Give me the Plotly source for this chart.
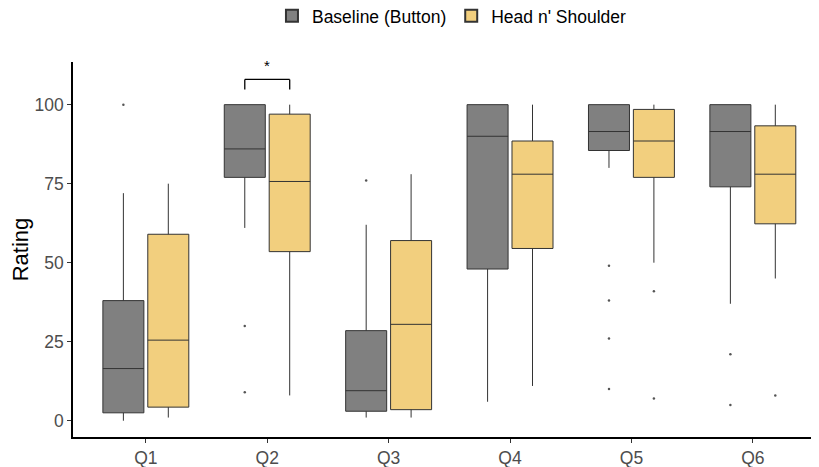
import plotly.graph_objects as go

questions = ["Q1", "Q2", "Q3", "Q4", "Q5", "Q6"]

# Baseline (Button)
base_q1 = [2.5, 77, 3, 48, 85.5, 74]
base_med = [16.5, 86, 9.5, 90, 91.5, 91.5]
base_q3 = [38, 100, 28.5, 100, 100, 100]
base_lo = [0, 61, 1, 6, 80, 37]
base_hi = [72, 100, 62, 100, 100, 100]
base_out_x = ["Q1", "Q2", "Q2", "Q3", "Q5", "Q5", "Q5", "Q5", "Q6", "Q6"]
base_out_y = [100, 30, 9, 76, 49, 38, 26, 10, 21, 5]

# Head n' Shoulder
hs_q1 = [4.3, 53.5, 3.5, 54.5, 77, 62.3]
hs_med = [25.5, 75.7, 30.5, 78, 88.5, 78]
hs_q3 = [59, 97, 57, 88.5, 98.5, 93.3]
hs_lo = [1, 8, 1, 11, 50, 45]
hs_hi = [75, 100, 78, 100, 100, 100]
hs_out_x = ["Q5", "Q5", "Q6"]
hs_out_y = [41, 7, 8]

# significance bracket
sig_question = 1  # index of Q2
sig_label = "*"
bracket_top = 108
bracket_tip = 104.8

BASE_COL = "#808080"
HS_COL = "#F2CF7E"
LINE_COL = "#333333"
DODGE = 0.185

fig = go.Figure()
fig.add_trace(go.Box(
    x=questions, q1=base_q1, median=base_med, q3=base_q3,
    lowerfence=base_lo, upperfence=base_hi,
    name="Baseline (Button)", offsetgroup="base",
    fillcolor=BASE_COL, line=dict(color=LINE_COL, width=1),
    whiskerwidth=0, boxpoints=False, hoverinfo="skip",
))
fig.add_trace(go.Box(
    x=questions, q1=hs_q1, median=hs_med, q3=hs_q3,
    lowerfence=hs_lo, upperfence=hs_hi,
    name="Head n' Shoulder", offsetgroup="hs",
    fillcolor=HS_COL, line=dict(color=LINE_COL, width=1),
    whiskerwidth=0, boxpoints=False, hoverinfo="skip",
))
fig.add_trace(go.Scatter(
    x=base_out_x, y=base_out_y, mode="markers", offsetgroup="base",
    marker=dict(color="#555555", size=2.5), showlegend=False, hoverinfo="skip",
))
fig.add_trace(go.Scatter(
    x=hs_out_x, y=hs_out_y, mode="markers", offsetgroup="hs",
    marker=dict(color="#555555", size=2.5), showlegend=False, hoverinfo="skip",
))

# bracket
xa = sig_question - DODGE
xb = sig_question + DODGE
for x0, y0, x1, y1 in [(xa, bracket_tip, xa, bracket_top),
                       (xa, bracket_top, xb, bracket_top),
                       (xb, bracket_top, xb, bracket_tip)]:
    fig.add_shape(type="line", xref="x", yref="y", x0=x0, y0=y0, x1=x1, y1=y1,
                  line=dict(color="black", width=1.3))
fig.add_annotation(x=sig_question, y=bracket_top + 1.0, text=sig_label,
                   showarrow=False, yanchor="bottom", xref="x", yref="y",
                   font=dict(size=15, color="black"))

# page body has an 8px margin, so the figure is 8px smaller than the window
fig.update_layout(
    width=811, height=459,
    margin=dict(l=65, r=0, t=54, b=30, autoexpand=False),
    paper_bgcolor="white", plot_bgcolor="white",
    boxmode="group", boxgap=0.26, boxgroupgap=0.087,
    scattermode="group", scattergap=0.26,
    font=dict(family="Liberation Sans, Arial, sans-serif", color="black"),
    legend=dict(orientation="h", x=0.508, xanchor="center",
                y=1.1227, yanchor="middle",
                font=dict(size=17.5, color="black"), itemsizing="constant"),
    showlegend=True,
)
fig.update_xaxes(
    type="category", categoryorder="array", categoryarray=questions,
    range=[-0.6, 5.545], showgrid=False, zeroline=False,
    showline=True, linecolor="black", linewidth=1.6,
    ticks="outside", ticklen=4, tickcolor="#333333", tickwidth=1.2,
    tickfont=dict(size=17.5, color="#4D4D4D"),
)
fig.update_yaxes(
    range=[-5.15, 113.5], tickvals=[0, 25, 50, 75, 100],
    showgrid=False, zeroline=False,
    showline=True, linecolor="black", linewidth=1.6,
    ticks="outside", ticklen=4, tickcolor="#333333", tickwidth=1.2,
    tickfont=dict(size=17.5, color="#4D4D4D"),
    title=dict(text="Rating", font=dict(size=22, color="black"), standoff=13),
)

fig.write_html("out.html")
